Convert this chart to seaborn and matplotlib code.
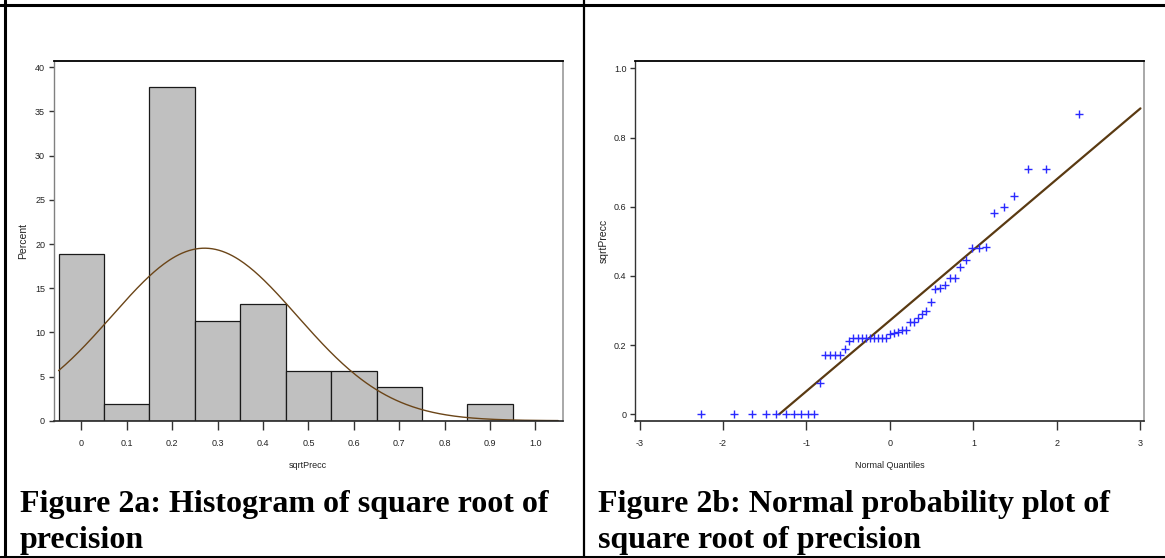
import matplotlib
matplotlib.use("Agg")
import matplotlib.pyplot as plt
from matplotlib.lines import Line2D
import numpy as np
import seaborn as sns
from statistics import NormalDist

# Square root of precision, one value per study (sorted)
sqrt_precc = [
    0.0, 0.0, 0.0, 0.0, 0.0, 0.0, 0.0, 0.0, 0.0, 0.0,
    0.091,
    0.17, 0.17, 0.17, 0.17, 0.19, 0.213,
    0.22, 0.22, 0.22, 0.22, 0.22, 0.22, 0.22, 0.22, 0.22,
    0.231, 0.236, 0.239, 0.244, 0.244,
    0.268, 0.268, 0.279, 0.290, 0.299, 0.325,
    0.361, 0.364, 0.375, 0.393, 0.395, 0.425, 0.447,
    0.482, 0.482, 0.483,
    0.581, 0.598, 0.632,
    0.709, 0.709,
    0.868,
]

hist_xticks = [0.0, 0.1, 0.2, 0.3, 0.4, 0.5, 0.6, 0.7, 0.8, 0.9, 1.0]
hist_xticklabels = ["0", "0.1", "0.2", "0.3", "0.4", "0.5", "0.6", "0.7", "0.8", "0.9", "1.0"]
hist_yticks = [0, 5, 10, 15, 20, 25, 30, 35, 40]
qq_xticks = [-3, -2, -1, 0, 1, 2, 3]
qq_xticklabels = ["-3", "-2", "-1", "0", "1", "2", "3"]
qq_yticks = [0.0, 0.2, 0.4, 0.6, 0.8, 1.0]
qq_yticklabels = ["0", "0.2", "0.4", "0.6", "0.8", "1.0"]

caption_a = ["Figure 2a: Histogram of square root of", "precision"]
caption_b = ["Figure 2b: Normal probability plot of", "square root of precision"]

sns.set_style("white")
tick_font = ["Liberation Sans Narrow", "Liberation Sans", "DejaVu Sans"]
plt.rcParams["font.family"] = tick_font

W, H = 1165, 558
fig = plt.figure(figsize=(W / 100, H / 100), dpi=100)
fig.patch.set_facecolor("white")


def px_axes(left, top, right, bottom):
    return fig.add_axes([left / W, 1 - bottom / H, (right - left) / W, (bottom - top) / H])


values = np.array(sqrt_precc)
mu = values.mean()
sigma = values.std(ddof=1)
bin_width = 0.1
edges = np.round(np.arange(-0.05, 1.1, bin_width), 2)

# ---- Histogram with fitted normal curve ----
ax1 = px_axes(53.7, 60.7, 562.7, 420.7)
sns.histplot(x=values, bins=edges, stat="percent", color="#C0C0C0",
             edgecolor="#1a1a1a", linewidth=0.9, alpha=1.0, ax=ax1)
grid = np.linspace(-0.05, 1.05, 300)
curve = 100 * bin_width * np.exp(-0.5 * ((grid - mu) / sigma) ** 2) / (sigma * np.sqrt(2 * np.pi))
sns.lineplot(x=grid, y=curve, color="#6b4518", linewidth=1.0, ax=ax1)
ax1.set_xlim(-0.0608, 1.06)
ax1.set_ylim(0, 40.75)
ax1.set_xticks(hist_xticks)
ax1.set_xticklabels(hist_xticklabels)
ax1.set_yticks(hist_yticks)
ax1.set_yticklabels([str(t) for t in hist_yticks])
ax1.set_xlabel("sqrtPrecc", fontsize=6.5, color="#222222")
ax1.xaxis.set_label_coords(0.5, -0.112)
ax1.set_ylabel("Percent", fontsize=7.5, color="#222222")
ax1.yaxis.set_label_coords(-0.0505, 0.5)

# ---- Normal probability plot ----
n = len(values)
ranks = np.arange(1, n + 1)
quantiles = np.array([NormalDist().inv_cdf((r - 0.375) / (n + 0.25)) for r in ranks])
ax2 = px_axes(635, 60.7, 1144.3, 420.7)
q_start = -mu / sigma
ref_x = np.array([q_start, 3.0])
sns.lineplot(x=ref_x, y=mu + sigma * ref_x, color="#5a3a12", linewidth=1.6, ax=ax2)
sns.scatterplot(x=quantiles, y=np.sort(values), marker="+", color="#2a2aff",
                s=38, linewidth=1.0, ax=ax2, zorder=3)
ax2.set_xlim(-3.054, 3.046)
ax2.set_ylim(-0.0185, 1.022)
ax2.set_xticks(qq_xticks)
ax2.set_xticklabels(qq_xticklabels)
ax2.set_yticks(qq_yticks)
ax2.set_yticklabels(qq_yticklabels)
ax2.set_xlabel("Normal Quantiles", fontsize=6.5, color="#222222")
ax2.xaxis.set_label_coords(0.5, -0.112)
ax2.set_ylabel("sqrtPrecc", fontsize=7.5, color="#222222")
ax2.yaxis.set_label_coords(-0.0524, 0.5)

for ax, left_color in ((ax1, "#808080"), (ax2, "#333333")):
    ax.set_facecolor("white")
    ax.grid(False)
    ax.spines["top"].set_color("black")
    ax.spines["top"].set_linewidth(1.3)
    ax.spines["bottom"].set_color("#262626")
    ax.spines["bottom"].set_linewidth(1.2)
    ax.spines["left"].set_color(left_color)
    ax.spines["left"].set_linewidth(1.0)
    ax.spines["right"].set_color("#9a9a9a")
    ax.spines["right"].set_linewidth(1.2)
    ax.tick_params(axis="x", bottom=True, length=6.5, width=1.0, color="#333333",
                   pad=7, labelsize=6.5, labelcolor="#222222")
    ax.tick_params(axis="y", left=True, length=3.6, width=1.0, color="#333333",
                   pad=2.6, labelsize=6.5, labelcolor="#222222")

# ---- Table rules and captions ----
def rule(x0, y0, x1, y1, lw):
    fig.add_artist(Line2D([x0 / W, x1 / W], [1 - y0 / H, 1 - y1 / H],
                          transform=fig.transFigure, color="black", linewidth=lw))

rule(0, 4.5, W, 4.5, 2.2)
rule(4.5, 0, 4.5, H, 2.2)
rule(584, 0, 584, H, 1.6)
rule(0, 556.5, W, 556.5, 2.2)

cap_font = dict(family=["Liberation Serif", "DejaVu Serif"], fontweight="bold",
                fontsize=23, color="black", va="baseline", ha="left")
for (x0, lines) in ((20, caption_a), (598, caption_b)):
    for i, line in enumerate(lines):
        fig.text(x0 / W, 1 - (512 + 36 * i) / H, line, **cap_font)

fig.savefig("out.png", dpi=100, facecolor="white")
